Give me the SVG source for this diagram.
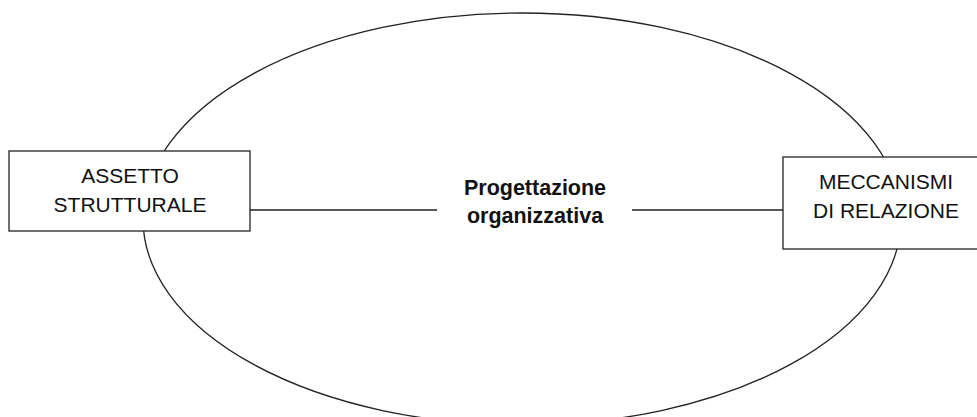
<svg xmlns="http://www.w3.org/2000/svg" width="977" height="417" viewBox="0 0 977 417">
<style>
.ln{fill:none;stroke:#222;stroke-width:1.3}
.box{fill:#fff;stroke:#222;stroke-width:1.3}
.t{font-family:"Liberation Sans",Arial,sans-serif;font-size:21px;fill:#111;text-anchor:middle}
.b{font-family:"Liberation Sans",Arial,sans-serif;font-size:21.5px;font-weight:bold;fill:#111;text-anchor:middle}
</style>
<rect width="977" height="417" fill="#fff"/>
<g id="connectors">
<ellipse class="ln" cx="522" cy="219" rx="379" ry="206"/>
<line class="ln" x1="250" y1="210" x2="437" y2="210"/>
<line class="ln" x1="632" y1="210" x2="783" y2="210"/>
</g>
<g id="center">
<text class="b" x="535" y="195">Progettazione</text>
<text class="b" x="535" y="223">organizzativa</text>
</g>
<g id="assetto">
<rect class="box" x="9" y="151" width="241" height="80"/>
<text class="t" x="130" y="183">ASSETTO</text>
<text class="t" x="130" y="212">STRUTTURALE</text>
</g>
<g id="meccanismi">
<rect class="box" x="783" y="157" width="200" height="92"/>
<text class="t" x="886" y="189">MECCANISMI</text>
<text class="t" x="886" y="218">DI RELAZIONE</text>
</g>
</svg>
